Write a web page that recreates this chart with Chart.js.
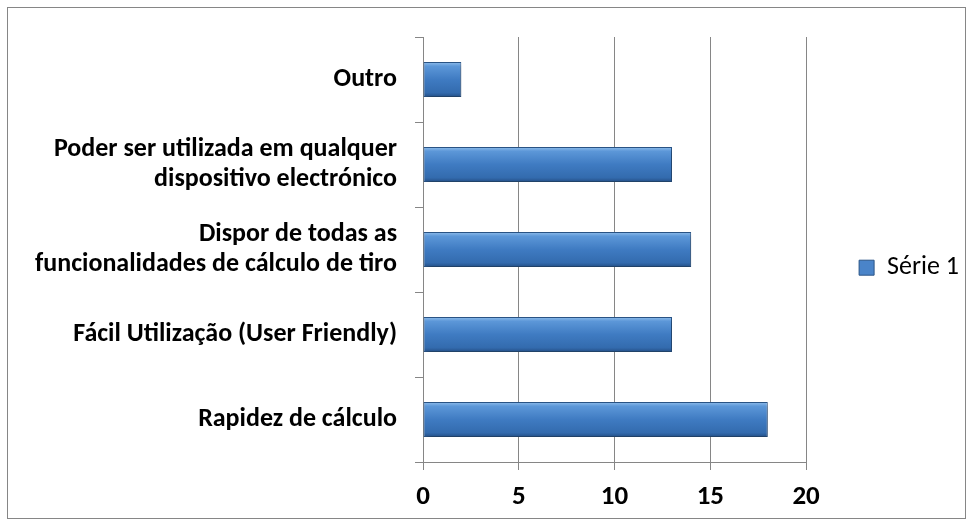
<!DOCTYPE html>
<html>
<head>
<meta charset="utf-8">
<script src="https://cdn.jsdelivr.net/npm/chart.js@4.4.0/dist/chart.umd.min.js"></script>
<style>
  html, body { margin: 0; padding: 0; background: #fff; }
  #wrap { width: 973px; height: 527px; }
</style>
</head>
<body>
<div id="wrap"><canvas id="chart"></canvas></div>
<script>
// data
var categories = [
    "Outro",
    ["Poder ser utilizada em qualquer", "dispositivo electrónico"],
    ["Dispor de todas as", "funcionalidades de cálculo de tiro"],
    "Fácil Utilização (User Friendly)",
    "Rapidez de cálculo"
];
var serie1 = [2, 13, 14, 13, 18];
var seriesName = "Série 1";
var xTicks = [0, 5, 10, 15, 20];

var FONT = "Carlito, 'Open Sans', sans-serif";
var BAR_FRACTION = 0.41;

function barGradient(context) {
    var chart = context.chart;
    var y = chart.scales.y;
    if (!y || context.dataIndex === undefined) return "#3E7CC4";
    var band = Math.abs(y.getPixelForValue(1) - y.getPixelForValue(0));
    var c = y.getPixelForValue(context.dataIndex);
    var h = band * BAR_FRACTION / 2;
    var g = chart.ctx.createLinearGradient(0, c - h, 0, c + h);
    g.addColorStop(0, "#8FBDEB");
    g.addColorStop(0.12, "#5C97D8");
    g.addColorStop(0.5, "#3F7BC2");
    g.addColorStop(0.88, "#336BAE");
    g.addColorStop(1, "#244F86");
    return g;
}

// frame around the whole chart + bar shadow
var framePlugin = {
    id: "frame",
    beforeDraw: function (chart) {
        var ctx = chart.ctx;
        ctx.save();
        ctx.fillStyle = "#fff";
        ctx.fillRect(0, 0, chart.width, chart.height);
        ctx.strokeStyle = "#868686";
        ctx.lineWidth = 1;
        ctx.strokeRect(7.5, 7.5, 958, 511);
        ctx.restore();
    },
    beforeDatasetsDraw: function (chart) {
        var ctx = chart.ctx;
        ctx.save();
        ctx.shadowColor = "rgba(0,0,0,0.28)";
        ctx.shadowBlur = 5;
        ctx.shadowOffsetX = 2;
        ctx.shadowOffsetY = 3;
    },
    afterDatasetsDraw: function (chart) {
        chart.ctx.restore();
    }
};

var ctx = document.getElementById("chart").getContext("2d");
var myChart = new Chart(ctx, {
    type: "bar",
    data: {
        labels: categories,
        datasets: [{
            label: seriesName,
            data: serie1,
            backgroundColor: barGradient,
            borderColor: "#2A5587",
            borderWidth: 1,
            borderSkipped: false,
            barPercentage: 0.82,
            categoryPercentage: 0.5
        }]
    },
    options: {
        indexAxis: "y",
        responsive: true,
        maintainAspectRatio: false,
        animation: false,
        layout: { padding: { left: 0, top: 37, right: 4, bottom: 0 } },
        plugins: {
            tooltip: { enabled: false },
            legend: {
                position: "right",
                fullSize: false,
                maxWidth: 164,
                // empty title only used to push the item down a little
                title: {
                    display: true,
                    text: " ",
                    color: "#000",
                    font: { size: 12 },
                    padding: { top: 0, bottom: 22 }
                },
                labels: {
                    font: { family: FONT, size: 26 },
                    color: "#000",
                    boxWidth: 15,
                    boxHeight: 15,
                    padding: 53,
                    generateLabels: function () {
                        return [{
                            text: seriesName,
                            fillStyle: "#4A84C9",
                            strokeStyle: "#2A5587",
                            fontColor: "#000",
                            lineWidth: 1,
                            datasetIndex: 0
                        }];
                    }
                }
            }
        },
        scales: {
            x: {
                min: 0,
                max: 20,
                afterBuildTicks: function (scale) {
                    scale.ticks = xTicks.map(function (v) { return { value: v }; });
                },
                afterFit: function (scale) { scale.height = 65; },
                grid: { color: "#868686", lineWidth: 1, tickLength: 8, drawTicks: true },
                border: { color: "#868686" },
                ticks: {
                    font: { family: FONT, size: 27, weight: "bold" },
                    color: "#000",
                    padding: 11
                }
            },
            y: {
                afterFit: function (scale) { scale.width = 423; },
                grid: { drawOnChartArea: false, drawTicks: true, tickLength: 8, color: "#868686" },
                border: { color: "#868686" },
                ticks: {
                    font: { family: FONT, size: 26, weight: "bold", lineHeight: "30px" },
                    color: "#000",
                    padding: 18
                }
            }
        }
    },
    plugins: [framePlugin]
});
</script>
</body>
</html>
